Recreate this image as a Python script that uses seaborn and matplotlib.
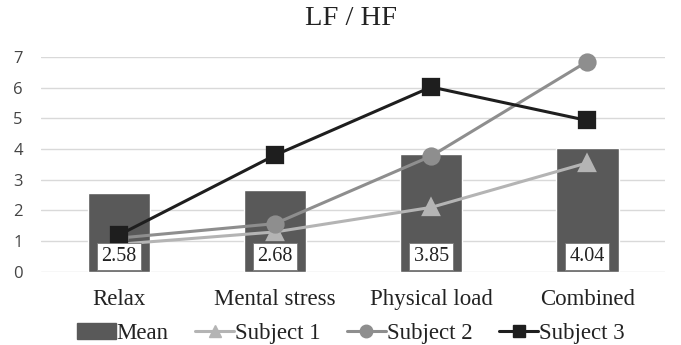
import pandas as pd
import matplotlib
matplotlib.use("Agg")
import matplotlib.pyplot as plt
import matplotlib.patches as mpatches
from matplotlib.lines import Line2D
import seaborn as sns

# ── data ──────────────────────────────────────────────────────────────────────
categories = ["Relax", "Mental stress", "Physical load", "Combined"]
mean_vals = [2.58, 2.68, 3.85, 4.04]
subject1 = [0.9, 1.3, 2.1, 3.55]
subject2 = [1.1, 1.57, 3.77, 6.85]
subject3 = [1.2, 3.8, 6.02, 4.93]

BAR = "#595959"; S1 = "#b4b4b4"; S2 = "#8e8e8e"; S3 = "#1e1e1e"
SERIF = "Liberation Serif"

sns.set_theme(style="white")
plt.rcParams["font.family"] = ["Liberation Serif", "DejaVu Serif"]

fig = plt.figure(figsize=(6.81, 3.45), dpi=100)
ax = fig.add_axes([0.06, 0.212, 0.917, 0.623])

df = pd.DataFrame({"cat": categories, "mean": mean_vals})
sns.barplot(data=df, x="cat", y="mean", color=BAR, width=0.4,
            saturation=1, ax=ax, zorder=2)

subjects = [("Subject 1", subject1, S1, "^"),
            ("Subject 2", subject2, S2, "o"),
            ("Subject 3", subject3, S3, "s")]
for name, vals, col, mk in subjects:
    sd = pd.DataFrame({"cat": categories, "val": vals})
    sns.pointplot(data=sd, x="cat", y="val", color=col, marker=mk,
                  markersize=11.5, linewidth=2.2, ax=ax, zorder=3)

for i, v in enumerate(mean_vals):
    ax.text(i, 0.5, f"{v:.2f}", ha="center", va="center", fontsize=14.5,
            family=SERIF, color="#222222", zorder=5,
            bbox=dict(boxstyle="square,pad=0.22", fc="white", ec="#777777", lw=0.6))

ax.set_ylim(0, 7)
ax.set_xlim(-0.5, 3.5)
ax.set_yticks(range(0, 8))
ax.yaxis.grid(True, color="#d9d9d9", linewidth=1, zorder=0)
ax.set_axisbelow(True)
for s in ax.spines.values():
    s.set_visible(False)
ax.set_xlabel(""); ax.set_ylabel("")
ax.tick_params(axis="x", labelsize=16.5, pad=12, length=0)
ax.tick_params(axis="y", labelsize=12, length=0, pad=13, colors="#444444")
for lab in ax.get_yticklabels():
    lab.set_family(["Open Sans", "DejaVu Sans"])
for lab in ax.get_xticklabels():
    lab.set_color("#222222")
for coll in ax.collections + ax.lines:
    coll.set_clip_on(False)

fig.text(0.515, 0.945, "LF / HF", ha="center", va="center", fontsize=20.5,
         color="#222222")

handles = [mpatches.Patch(color=BAR, label="Mean")]
for name, vals, col, mk in subjects:
    handles.append(Line2D([0], [0], color=col, marker=mk, markersize=9,
                          linewidth=2.2, label=name))
fig.legend(handles=handles, loc="center", bbox_to_anchor=(0.515, 0.032), ncol=4,
           frameon=False, fontsize=16.5, handlelength=1.7, handletextpad=0.05,
           columnspacing=1.15, labelcolor="#222222", borderpad=0)

fig.savefig("out.png", dpi=100)
